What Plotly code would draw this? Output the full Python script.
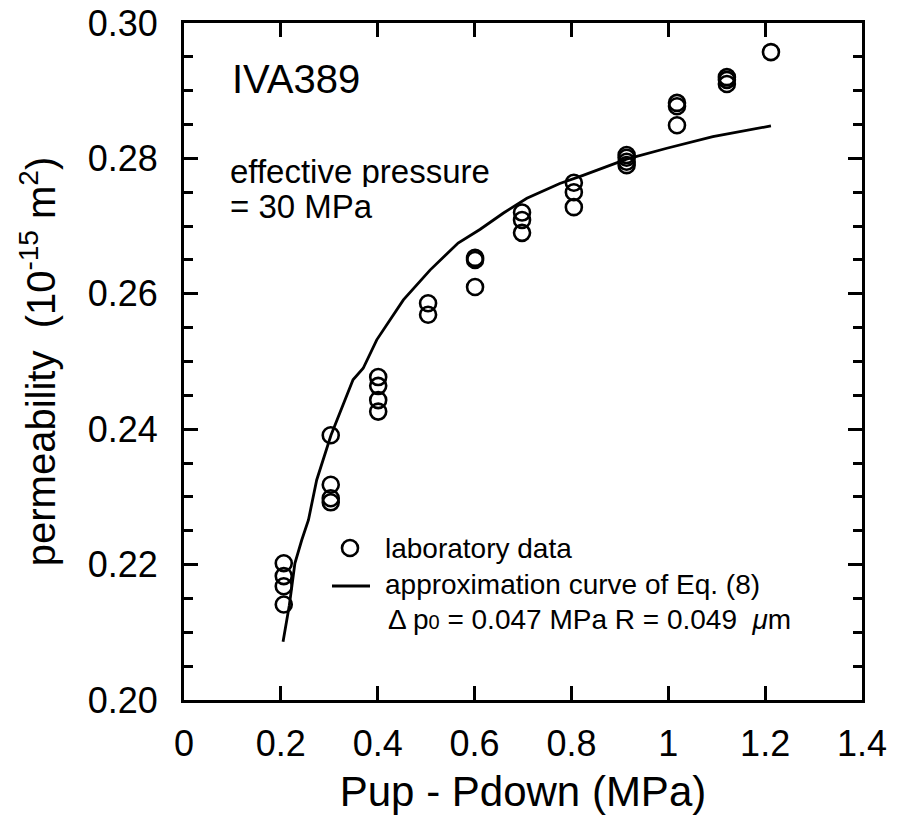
import plotly.graph_objects as go

# ---- data ----
dp_lab = [0.206, 0.206, 0.206, 0.206,
          0.303, 0.303, 0.303, 0.303,
          0.401, 0.401, 0.401, 0.401,
          0.504, 0.504,
          0.601, 0.601, 0.601,
          0.698, 0.698, 0.698,
          0.805, 0.805, 0.805,
          0.914, 0.914, 0.914, 0.914,
          1.018, 1.018, 1.018,
          1.121, 1.121, 1.121,
          1.212]
k_lab = [0.2202, 0.2183, 0.2168, 0.2141,
         0.2391, 0.2318, 0.2298, 0.2292,
         0.2477, 0.2464, 0.2443, 0.2426,
         0.2586, 0.2569,
         0.2653, 0.2650, 0.2610,
         0.2720, 0.2709, 0.2690,
         0.2764, 0.2750, 0.2728,
         0.2805, 0.2801, 0.2795, 0.2790,
         0.2882, 0.2877, 0.2849,
         0.2920, 0.2916, 0.2910,
         0.2957]

dp_fit = [0.2045, 0.2175, 0.229, 0.243, 0.257, 0.274, 0.3035, 0.349, 0.370,
          0.398, 0.453, 0.508, 0.566, 0.611, 0.659, 0.708, 0.776, 0.824,
          0.914, 0.997, 1.092, 1.212]
k_fit = [0.2086, 0.2140, 0.2202, 0.2236, 0.2266, 0.2325, 0.2391, 0.2473, 0.2490,
         0.2532, 0.2591, 0.2635, 0.2675, 0.2695, 0.2719, 0.2741, 0.2763, 0.2775,
         0.2799, 0.2815, 0.2832, 0.2848]

x_ticks = [0, 0.2, 0.4, 0.6, 0.8, 1.0, 1.2, 1.4]
x_ticktext = ["0", "0.2", "0.4", "0.6", "0.8", "1", "1.2", "1.4"]
y_ticks = [0.20, 0.22, 0.24, 0.26, 0.28, 0.30]
y_ticktext = ["0.20", "0.22", "0.24", "0.26", "0.28", "0.30"]

sample_label = "IVA389"
pressure_lines = ["effective pressure", "= 30 MPa"]
legend_lab = "laboratory data"
legend_fit = "approximation curve of Eq. (8)"
legend_fit2 = "Δ p<span style='font-size:20px'>0</span> = 0.047 MPa R = 0.049  <i>μ</i>m"

FONT = "Arial, Liberation Sans, Helvetica, sans-serif"

fig = go.Figure()
fig.add_trace(go.Scatter(
    x=dp_fit, y=k_fit, mode="lines",
    line=dict(color="black", width=2.8),
    showlegend=False, hoverinfo="skip"))
fig.add_trace(go.Scatter(
    x=dp_lab, y=k_lab, mode="markers",
    marker=dict(symbol="circle-open", size=16, color="black",
                line=dict(color="black", width=2.6)),
    showlegend=False))

axis_common = dict(
    showline=True, linecolor="black", linewidth=3, mirror="ticks",
    ticks="inside", tickcolor="black", tickwidth=2.5, ticklen=14,
    showgrid=False, zeroline=False, ticklabeloverflow="allow", automargin=False,
    tickfont=dict(family=FONT, size=36, color="black"),
)

fig.update_xaxes(
    range=[0, 1.4], tickvals=x_ticks, ticktext=x_ticktext,
    ticklabelstandoff=10,
    title=dict(text="Pup - Pdown (MPa)", font=dict(family=FONT, size=42, color="black"),
               standoff=14),
    **axis_common)
fig.update_yaxes(
    range=[0.20, 0.30], tickvals=y_ticks, ticktext=y_ticktext,
    ticklabelstandoff=16,
    minor=dict(dtick=0.005, ticks="inside", ticklen=9, tickwidth=2.5, tickcolor="black",
               showgrid=False),
    title=dict(text="permeability  (10<sup>-15</sup> m<sup>2</sup>)",
               font=dict(family=FONT, size=40, color="black"), standoff=20),
    **axis_common)


def py(p):
    return 1 - (p - 23) / 677


def px(p):
    return (p - 184) / 678


ann = []
ann.append(dict(text=sample_label, xref="paper", yref="paper", x=px(230), y=py(79),
                xanchor="left", yanchor="middle", showarrow=False,
                font=dict(family=FONT, size=40, color="black")))
ann.append(dict(text=pressure_lines[0], xref="paper", yref="paper", x=px(228),
                y=py(171), xanchor="left", yanchor="middle", showarrow=False, height=32,
                font=dict(family=FONT, size=33, color="black")))
ann.append(dict(text=pressure_lines[1], xref="paper", yref="paper", x=px(228),
                y=py(206), xanchor="left", yanchor="middle", showarrow=False, height=32,
                font=dict(family=FONT, size=33, color="black")))
ann.append(dict(text=legend_lab, xref="paper", yref="paper", x=px(383), y=py(548),
                xanchor="left", yanchor="middle", showarrow=False,
                font=dict(family=FONT, size=28, color="black")))
ann.append(dict(text=legend_fit, xref="paper", yref="paper", x=px(383), y=py(584),
                xanchor="left", yanchor="middle", showarrow=False,
                font=dict(family=FONT, size=28, color="black")))
ann.append(dict(text=legend_fit2, xref="paper", yref="paper", x=px(386), y=py(619),
                xanchor="left", yanchor="middle", showarrow=False,
                font=dict(family=FONT, size=28, color="black")))

shapes = [
    dict(type="circle", xref="paper", yref="paper", xsizemode="pixel", ysizemode="pixel",
         xanchor=px(350), yanchor=py(548), x0=-8, x1=8, y0=-8, y1=8,
         line=dict(color="black", width=2.6)),
    dict(type="line", xref="paper", yref="paper", x0=px(332), x1=px(370),
         y0=py(586), y1=py(586), line=dict(color="black", width=2.8)),
]

fig.update_layout(
    width=897, height=828,
    margin=dict(l=184, r=35, t=23, b=128),
    paper_bgcolor="white", plot_bgcolor="white",
    font=dict(family=FONT, color="black"),
    annotations=ann, shapes=shapes, showlegend=False,
)

# remove the browser's default 8px body margin so the figure sits at the page corner
fig.write_html("out.html", config={"displayModeBar": False},
               post_script="document.body.style.margin='0px';")
